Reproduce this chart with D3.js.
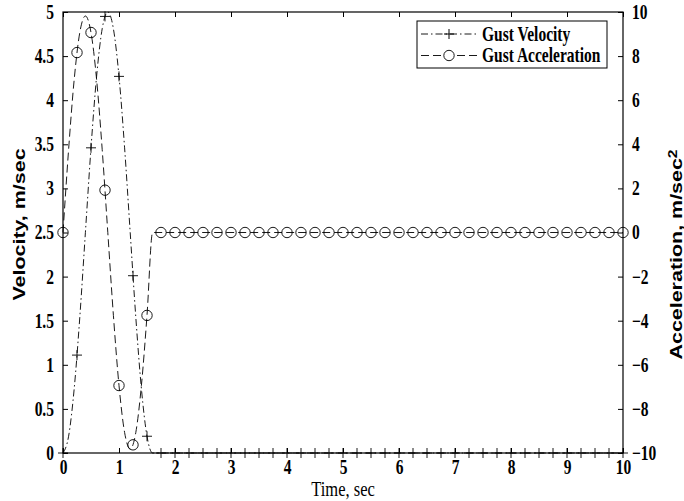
<!DOCTYPE html>
<html>
<head>
<meta charset="utf-8">
<script src="https://cdn.jsdelivr.net/npm/d3@7"></script>
<style>
  body { margin: 0; background: #fff; }
  svg { display: block; }
</style>
</head>
<body>
<svg id="chart"></svg>
<script>
// values
// smooth curves, sampled every 0.1 s while the gust lasts, then flat to 10 s
const curveTime = [0, 0.1, 0.2, 0.3, 0.4, 0.5, 0.6, 0.7, 0.8, 0.9, 1.0, 1.1, 1.2, 1.3, 1.4, 1.5, 1.6, 10]
const gustVelocity = [0, 0.19, 0.73, 1.54, 2.5, 3.46, 4.27, 4.81, 5.0, 4.81, 4.27, 3.46, 2.5, 1.54, 0.73, 0.19, 0, 0]
const gustAccel = [0, 3.76, 6.94, 9.07, 9.82, 9.07, 6.94, 3.76, 0, -3.76, -6.94, -9.07, -9.82, -9.07, -6.94, -3.76, 0, 0]

// marker samples every 0.25 s
const markerTime = [0, 0.25, 0.5, 0.75, 1, 1.25, 1.5, 1.75, 2, 2.25, 2.5, 2.75, 3, 3.25, 3.5, 3.75, 4, 4.25, 4.5, 4.75,
  5, 5.25, 5.5, 5.75, 6, 6.25, 6.5, 6.75, 7, 7.25, 7.5, 7.75, 8, 8.25, 8.5, 8.75, 9, 9.25, 9.5, 9.75, 10]
const velocityMarks = [0, 1.11, 3.46, 4.95, 4.27, 2.01, 0.19, 0, 0, 0, 0, 0, 0, 0, 0, 0, 0, 0, 0, 0,
  0, 0, 0, 0, 0, 0, 0, 0, 0, 0, 0, 0, 0, 0, 0, 0, 0, 0, 0, 0, 0]
const accelMarks = [0, 8.16, 9.07, 1.92, -6.94, -9.63, -3.76, 0, 0, 0, 0, 0, 0, 0, 0, 0, 0, 0, 0, 0,
  0, 0, 0, 0, 0, 0, 0, 0, 0, 0, 0, 0, 0, 0, 0, 0, 0, 0, 0, 0, 0]

const xTicks = [0, 1, 2, 3, 4, 5, 6, 7, 8, 9, 10]
const leftTicks = [0, 0.5, 1, 1.5, 2, 2.5, 3, 3.5, 4, 4.5, 5]
const rightTicks = [-10, -8, -6, -4, -2, 0, 2, 4, 6, 8, 10]
const legendNames = ["Gust Velocity", "Gust Acceleration"]

const width = 684
const height = 501
const margin = {top: 12, right: 61, bottom: 48, left: 63}
const stretch = 1.3   // the picture is taller than it is wide, text included

const serif = "'Liberation Serif', 'Times New Roman', serif"
const sans = "'Liberation Sans', Arial, sans-serif"

const svg = d3.select("#chart")
  .attr("width", width)
  .attr("height", height)

const x = d3.scaleLinear().domain([0, 10]).range([margin.left, width - margin.right])
const yL = d3.scaleLinear().domain([0, 5]).range([height - margin.bottom, margin.top])
const yR = d3.scaleLinear().domain([-10, 10]).range([height - margin.bottom, margin.top])

const x0 = margin.left, x1 = width - margin.right
const y0 = height - margin.bottom, y1 = margin.top

// stretched tick labels
function styleTicks(g, anchor, dy) {
  g.select(".domain").remove()
  g.selectAll(".tick line").attr("stroke", "#000").attr("stroke-width", 1)
  g.selectAll(".tick text")
    .attr("fill", "#000")
    .attr("font-family", serif)
    .attr("font-weight", "bold")
    .attr("font-size", 15.5)
    .attr("text-anchor", anchor)
    .each(function() {
      const t = d3.select(this)
      const tx = +t.attr("x") || 0
      const ty = +t.attr("y") || 0
      t.attr("x", null).attr("y", null).attr("dy", dy)
        .attr("transform", `translate(${tx},${ty}) scale(1,${stretch})`)
    })
}

svg.append("g")
  .attr("transform", `translate(0,${y0})`)
  .call(d3.axisBottom(x).tickValues(xTicks).tickSize(-5).tickPadding(7).tickFormat(d3.format("d")))
  .call(g => styleTicks(g, "middle", "0.71em"))

svg.append("g")
  .attr("transform", `translate(0,${y1})`)
  .call(d3.axisTop(x).tickValues(xTicks).tickSize(-5).tickFormat(""))
  .call(g => g.select(".domain").remove())
  .call(g => g.selectAll(".tick line").attr("stroke", "#000"))

svg.append("g")
  .attr("transform", `translate(${x0},0)`)
  .call(d3.axisLeft(yL).tickValues(leftTicks).tickSize(-5).tickPadding(9).tickFormat(d => d3.format("")(d)))
  .call(g => styleTicks(g, "end", "0.32em"))

svg.append("g")
  .attr("transform", `translate(${x1},0)`)
  .call(d3.axisRight(yR).tickValues(rightTicks).tickSize(-5).tickPadding(9).tickFormat(d3.format("d")))
  .call(g => styleTicks(g, "start", "0.32em"))

// frame
svg.append("rect")
  .attr("x", x0).attr("y", y1)
  .attr("width", x1 - x0).attr("height", y0 - y1)
  .attr("fill", "none").attr("stroke", "#000").attr("stroke-width", 1.2)

// axis titles
svg.append("text")
  .attr("transform", `translate(${(x0 + x1) / 2},${y0 + 43}) scale(1,${stretch})`)
  .attr("text-anchor", "middle")
  .attr("font-family", serif)
  .attr("font-size", 16.5)
  .text("Time, sec")

svg.append("text")
  .attr("transform", `translate(25,${(y0 + y1) / 2 - 8}) rotate(-90) scale(${stretch},1)`)
  .attr("text-anchor", "middle")
  .attr("font-family", sans)
  .attr("font-weight", "bold")
  .attr("font-size", 16.5)
  .text("Velocity, m/sec")

const accTitle = svg.append("text")
  .attr("transform", `translate(682,${(y0 + y1) / 2 + 22}) rotate(-90) scale(${stretch},1)`)
  .attr("text-anchor", "middle")
  .attr("font-family", sans)
  .attr("font-weight", "bold")
  .attr("font-size", 16.5)
accTitle.append("tspan").text("Acceleration, m/sec")
accTitle.append("tspan").attr("dy", "-0.45em").attr("font-size", 12).text("2")

// lines
const plot = svg.append("g")
  .attr("fill", "none")
  .attr("stroke", "#000")
  .attr("stroke-width", 0.9)

const lineV = d3.line()
  .x((d, i) => x(curveTime[i]))
  .y(d => yL(d))
  .curve(d3.curveMonotoneX)

const lineA = d3.line()
  .x((d, i) => x(curveTime[i]))
  .y(d => yR(d))
  .curve(d3.curveMonotoneX)

plot.append("path")
  .datum(gustVelocity)
  .attr("stroke-dasharray", "7,3,1.5,3")
  .attr("d", lineV)

plot.append("path")
  .datum(gustAccel)
  .attr("stroke-dasharray", "8,4")
  .attr("d", lineA)

// markers
function plusPath(cx, cy, s) {
  return `M${cx - s},${cy}H${cx + s}M${cx},${cy - s}V${cy + s}`
}

plot.append("g")
  .selectAll("path")
  .data(velocityMarks)
  .join("path")
  .attr("d", (d, i) => plusPath(x(markerTime[i]), yL(d), 5))

plot.append("g")
  .selectAll("circle")
  .data(accelMarks)
  .join("circle")
  .attr("cx", (d, i) => x(markerTime[i]))
  .attr("cy", d => yR(d))
  .attr("r", 5.2)

// legend
const lg = svg.append("g")
lg.append("rect")
  .attr("x", 417).attr("y", 21)
  .attr("width", 190).attr("height", 47)
  .attr("fill", "#fff").attr("stroke", "#000").attr("stroke-width", 1)

const legendStyles = [{dash: "7,3,1.5,3", mark: "plus"}, {dash: "8,4", mark: "circle"}]
legendNames.forEach((name, i) => {
  const ly = 34 + i * 21.5
  const row = lg.append("g")
  row.append("line")
    .attr("x1", 421).attr("x2", 477)
    .attr("y1", ly).attr("y2", ly)
    .attr("stroke", "#000").attr("stroke-width", 0.9)
    .attr("stroke-dasharray", legendStyles[i].dash)
  if (legendStyles[i].mark === "plus") {
    row.append("path").attr("d", plusPath(449, ly, 5)).attr("stroke", "#000")
  } else {
    row.append("circle").attr("cx", 449).attr("cy", ly).attr("r", 5.2)
      .attr("fill", "#fff").attr("stroke", "#000").attr("stroke-width", 0.9)
  }
  row.append("text")
    .attr("transform", `translate(482,${ly}) scale(1,${stretch})`)
    .attr("dy", "0.34em")
    .attr("font-family", serif)
    .attr("font-weight", "bold")
    .attr("font-size", 15.5)
    .text(name)
})
</script>
</body>
</html>
